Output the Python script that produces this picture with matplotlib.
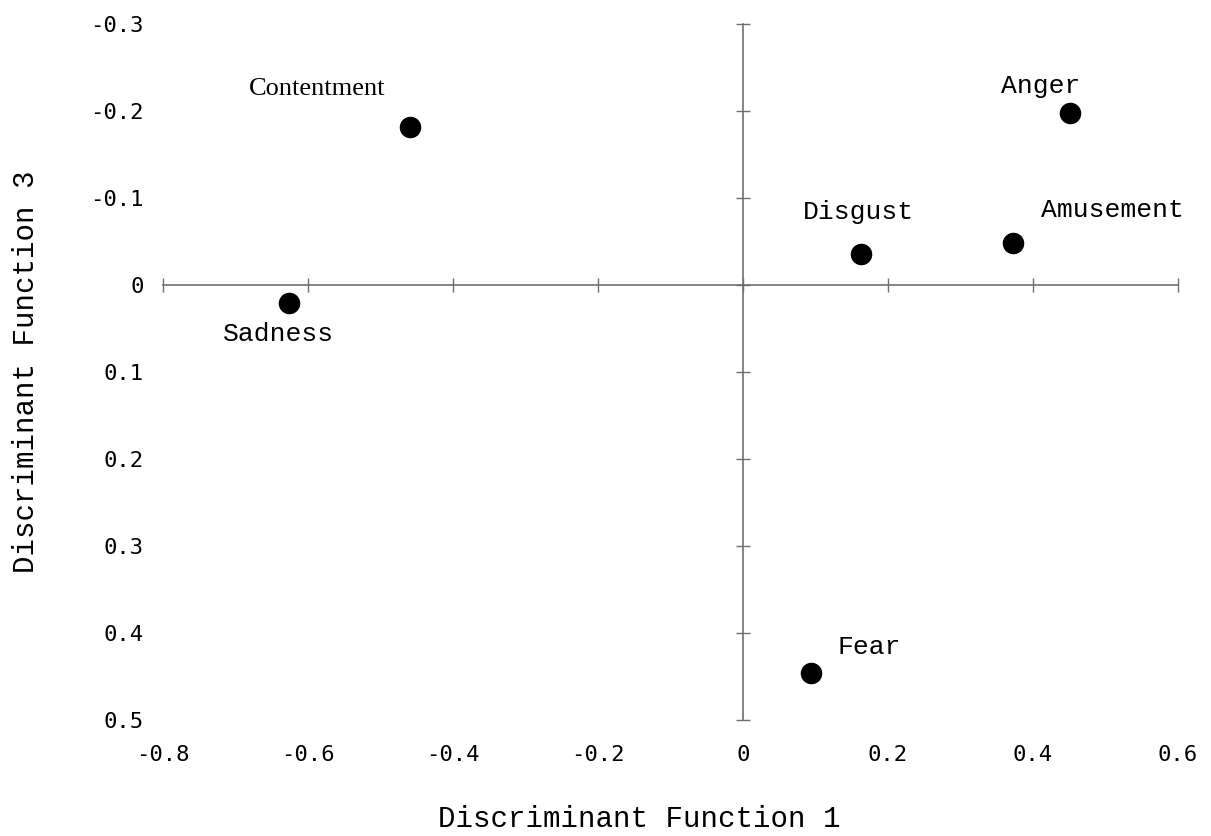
import matplotlib
matplotlib.use("Agg")
import matplotlib.pyplot as plt

emotions = ["Contentment", "Sadness", "Anger", "Amusement", "Disgust", "Fear"]
df1 = [-0.459, -0.626, 0.451, 0.372, 0.163, 0.094]
df3 = [-0.182, 0.021, -0.198, -0.048, -0.036, 0.446]

xticks = [-0.8, -0.6, -0.4, -0.2, 0.0, 0.2, 0.4, 0.6]
xticklabels = ["-0.8", "-0.6", "-0.4", "-0.2", "0", "0.2", "0.4", "0.6"]
yticks = [-0.3, -0.2, -0.1, 0.0, 0.1, 0.2, 0.3, 0.4, 0.5]
yticklabels = ["-0.3", "-0.2", "-0.1", "0", "0.1", "0.2", "0.3", "0.4", "0.5"]

# label offsets in points (style)
offsets = {
    "Contentment": (-67, 27),
    "Sadness": (-8, -22),
    "Anger": (-21, 19),
    "Amusement": (72, 24),
    "Disgust": (-2, 30),
    "Fear": (42, 19),
}

W, H = 1211, 836
fig = plt.figure(figsize=(W / 100, H / 100), dpi=100)
pos = [163 / W, 1 - 720 / H, (1178 - 163) / W, (720 - 24) / H]

# label axes (tick labels at edges)
ax2 = fig.add_axes(pos, frameon=False)
ax2.set_xlim(-0.8, 0.6)
ax2.set_ylim(0.5, -0.3)
ax2.set_xticks(xticks)
ax2.set_xticklabels(xticklabels, family="DejaVu Sans Mono", fontsize=16)
ax2.set_yticks(yticks)
ax2.set_yticklabels(yticklabels, family="DejaVu Sans Mono", fontsize=16)
ax2.tick_params(length=0)
ax2.tick_params(axis="x", pad=18)
ax2.tick_params(axis="y", pad=14)
ax2.set_xlabel("Discriminant Function 1", family="Liberation Mono", fontsize=21, labelpad=29)
ax2.xaxis.label.set_x(0.469)
ax2.set_ylabel("Discriminant Function 3", family="Liberation Mono", fontsize=21, labelpad=36)

# main axes through origin
ax = fig.add_axes(pos, sharex=ax2, sharey=ax2)
ax.patch.set_visible(False)
for s in ["top", "right"]:
    ax.spines[s].set_visible(False)
for s in ["left", "bottom"]:
    ax.spines[s].set_position(("data", 0))
    ax.spines[s].set_color("#707070")
    ax.spines[s].set_linewidth(1.2)
ax.tick_params(direction="inout", length=10, width=1.0, color="#707070",
               labelleft=False, labelbottom=False)
ax.set_xlim(-0.8, 0.6)
ax.set_ylim(0.5, -0.3)

ax.scatter(df1, df3, s=210, color="black", zorder=5, clip_on=False)

for name, x, y in zip(emotions, df1, df3):
    fam = "Liberation Serif" if name == "Contentment" else "Liberation Mono"
    ax.annotate(name, (x, y), xytext=offsets[name], textcoords="offset points",
                ha="center", va="center", family=fam, fontsize=19)

fig.savefig("out.png", dpi=100)
